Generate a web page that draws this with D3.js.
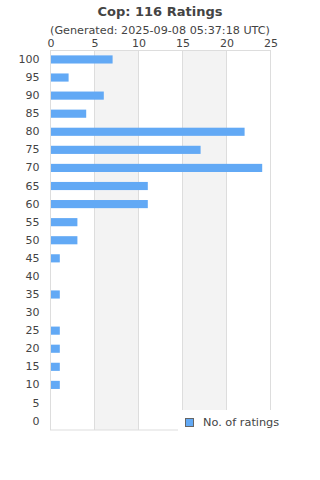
<!DOCTYPE html>
<html>
<head>
<meta charset="utf-8">
<script src="https://cdn.jsdelivr.net/npm/d3@7"></script>
<style>
  body { margin: 0; background: #fff; }
  text { font-family: "DejaVu Sans", sans-serif; fill: #444; }
</style>
</head>
<body>
<div id="chart"></div>
<script>
// ratings buckets and counts
const categories = ["100", "95", "90", "85", "80", "75", "70", "65", "60", "55", "50",
                    "45", "40", "35", "30", "25", "20", "15", "10", "5", "0"];
const counts = [7, 2, 6, 4, 22, 17, 24, 11, 11, 3, 3, 1, 0, 1, 0, 1, 1, 1, 1, 0, 0];
const xTicks = [0, 5, 10, 15, 20, 25];
const titleText = "Cop: 116 Ratings";
const subtitleText = "(Generated: 2025-09-08 05:37:18 UTC)";
const seriesName = "No. of ratings";

const width = 320, height = 480;
const margin = {top: 50.5, right: 49.5, bottom: 50, left: 50.5};
const innerW = width - margin.left - margin.right;
const innerH = 430 - margin.top;

const svg = d3.select("#chart").append("svg")
    .attr("width", width)
    .attr("height", height);

// titles
svg.append("text")
    .attr("x", width / 2).attr("y", 16)
    .attr("text-anchor", "middle")
    .style("font-size", "13px").style("font-weight", "bold")
    .text(titleText);
svg.append("text")
    .attr("x", width / 2).attr("y", 34)
    .attr("text-anchor", "middle")
    .style("font-size", "11.2px")
    .text(subtitleText);

const g = svg.append("g")
    .attr("transform", "translate(" + margin.left + "," + margin.top + ")");

const x = d3.scaleLinear().domain([0, 25]).range([0, innerW]);
const y = d3.scaleBand().domain(categories).range([0, innerH]).paddingInner(0.55).paddingOuter(0.27);

// alternating bands
const bands = xTicks.slice(0, -1).filter((d, i) => i % 2 === 1);
g.selectAll(".band").data(bands).enter().append("rect")
    .attr("x", d => x(d))
    .attr("y", 0)
    .attr("width", d => x(d + 5) - x(d))
    .attr("height", innerH)
    .attr("fill", "#f3f3f3");

// grid lines
g.selectAll(".grid").data(xTicks).enter().append("line")
    .attr("x1", d => x(d)).attr("x2", d => x(d))
    .attr("y1", 0).attr("y2", innerH)
    .attr("stroke", "#ddd");

g.append("rect")
    .attr("width", innerW).attr("height", innerH)
    .attr("fill", "none").attr("stroke", "#ddd");

// bars
g.selectAll(".bar").data(counts).enter().append("rect")
    .attr("x", x(0) + 0.5)
    .attr("y", (d, i) => y(categories[i]))
    .attr("width", d => Math.max(0, x(d) - x(0)))
    .attr("height", y.bandwidth())
    .attr("fill", "#62a9f5");

// x axis on top
const xAxis = g.append("g")
    .call(d3.axisTop(x).tickValues(xTicks).tickSize(0).tickPadding(4));
xAxis.select(".domain").remove();
xAxis.selectAll("text").style("font-size", "11px").attr("fill", "#444").style("font-family", "DejaVu Sans, sans-serif");

// y axis
const yAxis = g.append("g")
    .call(d3.axisLeft(y).tickSize(0).tickPadding(11));
yAxis.select(".domain").remove();
yAxis.selectAll("text").style("font-size", "11px").attr("fill", "#444").style("font-family", "DejaVu Sans, sans-serif");

// legend
const legend = svg.append("g").attr("transform", "translate(178,410)");
legend.append("rect")
    .attr("width", 120).attr("height", 26)
    .attr("fill", "#fff");
legend.append("rect")
    .attr("x", 7.5).attr("y", 8.5)
    .attr("width", 8).attr("height", 8)
    .attr("fill", "#62a9f5").attr("stroke", "#666");
legend.append("text")
    .attr("x", 25).attr("y", 16)
    .style("font-size", "11.3px")
    .text(seriesName);
</script>
</body>
</html>
